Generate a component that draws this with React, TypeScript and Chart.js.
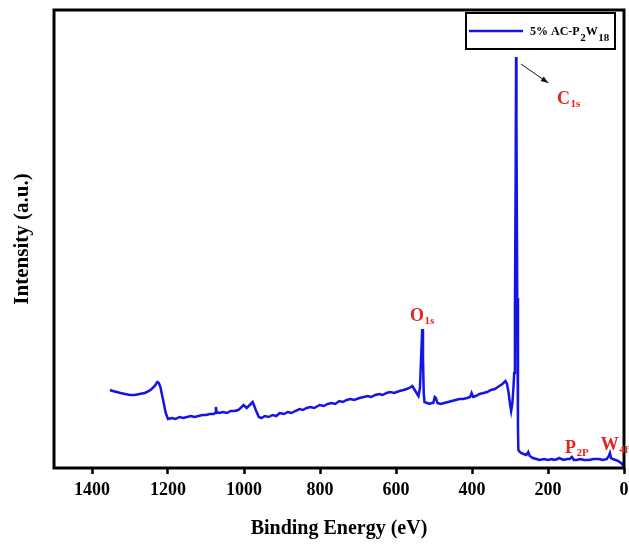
import React, { useEffect, useRef } from "react";
import { Chart, registerables } from "chart.js";

Chart.register(...registerables);

// ---- data (binding energy in eV, intensity in arbitrary units) ----
const bindingEnergy: number[] = [
  1353, 1345, 1335, 1325, 1313, 1300, 1287, 1275, 1261, 1250, 1243, 1235, 1228, 1224, 1220, 1214, 1206,
  1200, 1190, 1180, 1170, 1160, 1150, 1140, 1130, 1120, 1110, 1100, 1090, 1080, 1076, 1074, 1072, 1065,
  1055, 1045, 1035, 1025, 1015, 1009, 1001, 993, 985, 977, 969, 961, 954, 945, 935, 925, 915, 906, 895,
  885, 875, 865, 854, 845, 835, 825, 815, 801, 790, 780, 770, 760, 749, 740, 730, 720, 710, 696, 685,
  675, 665, 655, 644, 635, 625, 615, 605, 591, 580, 572, 565, 557, 549, 541, 537, 534, 531, 529, 527,
  525, 518, 512, 506, 502, 498, 495, 491, 483, 473, 463, 453, 443, 433, 423, 413, 405, 401, 397, 390,
  380, 370, 360, 350, 340, 328, 320, 312, 308, 304, 300, 297, 294, 291, 289, 287, 285, 284, 283, 281,
  279, 278, 274, 271, 264, 257, 252, 248, 240, 230, 223, 210, 200, 190, 184, 175, 171, 165, 158, 150,
  143, 137, 132, 125, 115, 105, 92, 80, 66, 55, 45, 40, 37, 34, 30, 22, 15, 8, 3, 0,
];
const intensity: number[] = [
  78, 77, 76, 75, 74, 73, 73, 74, 75, 77, 79, 82, 86, 85, 81, 70, 55,
  49, 50, 49, 51, 50, 51, 52, 51, 52, 53, 53, 54, 54, 55, 61, 56, 55,
  56, 55, 57, 57, 58, 60, 63, 60, 63, 66, 58, 51, 50, 52, 51, 53, 52, 55, 54,
  56, 55, 57, 59, 58, 60, 61, 60, 63, 62, 64, 65, 64, 67, 66, 68, 69, 68, 70, 71,
  72, 71, 73, 74, 73, 75, 76, 75, 77, 78, 79, 80, 82, 77, 72, 80, 110, 139, 110, 75,
  66, 65, 64, 65, 65, 71, 70, 65, 64, 65, 66, 67, 68, 69, 69, 70, 71, 75, 71, 72,
  74, 75, 76, 78, 79, 82, 84, 87, 84, 76, 64, 57, 64, 80, 95, 160, 300, 411, 350, 170,
  40, 18, 16, 15, 14, 13, 16, 12, 10, 9, 8, 9, 8, 9, 8, 9, 10, 9, 8, 9,
  9, 11, 8, 8, 9, 8, 8, 9, 9, 8, 9, 12, 15, 10, 9, 8, 7, 5, 3, 2,
];
const xTicks: number[] = [0, 200, 400, 600, 800, 1000, 1200, 1400];
const seriesName = "5% AC-P2W18";
const legendParts: { t: string; sub: boolean }[] = [
  { t: "5% AC-P", sub: false },
  { t: "2", sub: true },
  { t: "W", sub: false },
  { t: "18", sub: true },
];
// peak labels: text, subscript, anchor (eV, intensity)
const peakLabels: { main: string; sub: string; ev: number; val: number }[] = [
  { main: "C", sub: "1s", ev: 176, val: 364 },
  { main: "O", sub: "1s", ev: 563, val: 147 },
  { main: "P", sub: "2P", ev: 155, val: 15 },
  { main: "W", sub: "4f", ev: 61, val: 18 },
];
const arrowFrom = { ev: 271, val: 404 };
const arrowTo = { ev: 199, val: 385 };

const FONT = "'Liberation Serif', 'Times New Roman', serif";
const LINE_COLOR = "#1414e6";
const LABEL_RED = "#e3231d";

const decorPlugin = {
  id: "decor",
  afterDatasetsDraw(chart: any) {
    const { ctx, chartArea: a, scales } = chart;
    const xs = scales.x;
    const ys = scales.y;
    ctx.save();
    // frame
    ctx.strokeStyle = "#000";
    ctx.lineWidth = 3;
    ctx.strokeRect(a.left, a.top, a.right - a.left, a.bottom - a.top);

    // legend box
    const bx = a.right - 158;
    const by = a.top + 3;
    const bw = 149;
    const bh = 36;
    ctx.lineWidth = 2;
    ctx.strokeRect(bx, by, bw, bh);
    ctx.strokeStyle = LINE_COLOR;
    ctx.lineWidth = 2.5;
    ctx.beginPath();
    ctx.moveTo(bx + 3, by + 18);
    ctx.lineTo(bx + 57, by + 18);
    ctx.stroke();
    let tx = bx + 64;
    ctx.fillStyle = "#000";
    ctx.textBaseline = "alphabetic";
    for (const p of legendParts) {
      ctx.font = p.sub ? `bold 11px ${FONT}` : `bold 12px ${FONT}`;
      const yy = p.sub ? by + 28 : by + 22;
      ctx.fillText(p.t, tx, yy);
      tx += ctx.measureText(p.t).width + (p.sub ? 0 : 0.5);
    }

    // peak labels
    ctx.fillStyle = LABEL_RED;
    for (const l of peakLabels) {
      const px = xs.getPixelForValue(l.ev);
      const py = ys.getPixelForValue(l.val);
      ctx.font = `bold 18px ${FONT}`;
      ctx.fillText(l.main, px, py);
      const w = ctx.measureText(l.main).width;
      ctx.font = `bold 11px ${FONT}`;
      ctx.fillText(l.sub, px + w + 0.5, py + 3);
    }

    // arrow
    const x1 = xs.getPixelForValue(arrowFrom.ev);
    const y1 = ys.getPixelForValue(arrowFrom.val);
    const x2 = xs.getPixelForValue(arrowTo.ev);
    const y2 = ys.getPixelForValue(arrowTo.val);
    ctx.strokeStyle = "#111";
    ctx.fillStyle = "#111";
    ctx.lineWidth = 1;
    ctx.beginPath();
    ctx.moveTo(x1, y1);
    ctx.lineTo(x2, y2);
    ctx.stroke();
    const ang = Math.atan2(y2 - y1, x2 - x1);
    const hl = 8;
    ctx.beginPath();
    ctx.moveTo(x2, y2);
    ctx.lineTo(x2 - hl * Math.cos(ang - 0.35), y2 - hl * Math.sin(ang - 0.35));
    ctx.lineTo(x2 - hl * Math.cos(ang + 0.35), y2 - hl * Math.sin(ang + 0.35));
    ctx.closePath();
    ctx.fill();
    ctx.restore();
  },
};

export default function App() {
  const ref = useRef<HTMLCanvasElement | null>(null);
  useEffect(() => {
    if (!ref.current) return;
    const points = bindingEnergy.map((x, i) => ({ x, y: intensity[i] }));
    const chart = new Chart(ref.current, {
      type: "line",
      data: {
        datasets: [
          {
            label: seriesName,
            data: points,
            borderColor: LINE_COLOR,
            borderWidth: 2.5,
            pointRadius: 0,
            tension: 0,
            fill: false,
          },
        ],
      },
      options: {
        animation: false,
        responsive: false,
        maintainAspectRatio: false,
        layout: { padding: { top: 10, right: 5, left: 0, bottom: 0 } },
        plugins: { legend: { display: false }, tooltip: { enabled: false } },
        scales: {
          x: {
            type: "linear",
            reverse: true,
            min: 0,
            max: 1500,
            afterBuildTicks: (scale: any) => {
              scale.ticks = xTicks.map((v) => ({ value: v }));
            },
            afterFit: (scale: any) => {
              scale.height = 80;
            },
            ticks: {
              color: "#000",
              font: { family: FONT, size: 18, weight: "bold" },
              padding: 6,
              maxRotation: 0,
              autoSkip: false,
              callback: (v: any) => String(v),
            },
            grid: {
              drawOnChartArea: false,
              drawTicks: true,
              tickLength: 6,
              tickWidth: 2.5,
              tickColor: "#000",
            },
            border: { display: false },
            title: {
              display: true,
              text: "Binding Energy (eV)",
              color: "#000",
              font: { family: FONT, size: 20, weight: "bold" },
              padding: { top: 0, bottom: 7 },
            },
          },
          y: {
            type: "linear",
            min: 0,
            max: 458,
            afterFit: (scale: any) => {
              scale.width = 54;
            },
            ticks: { display: false },
            grid: { display: false },
            border: { display: false },
            title: {
              display: true,
              text: "Intensity (a.u.)",
              color: "#000",
              font: { family: FONT, size: 21, weight: "bold" },
              padding: { top: 10, bottom: 0 },
            },
          },
        },
      },
      plugins: [decorPlugin],
    } as any);
    return () => chart.destroy();
  }, []);
  return (
    <div style={{ position: "absolute", left: 0, top: 0, width: 629, height: 548, background: "#fff" }}>
      <canvas ref={ref} width={629} height={548} style={{ width: 629, height: 548 }} />
    </div>
  );
}
